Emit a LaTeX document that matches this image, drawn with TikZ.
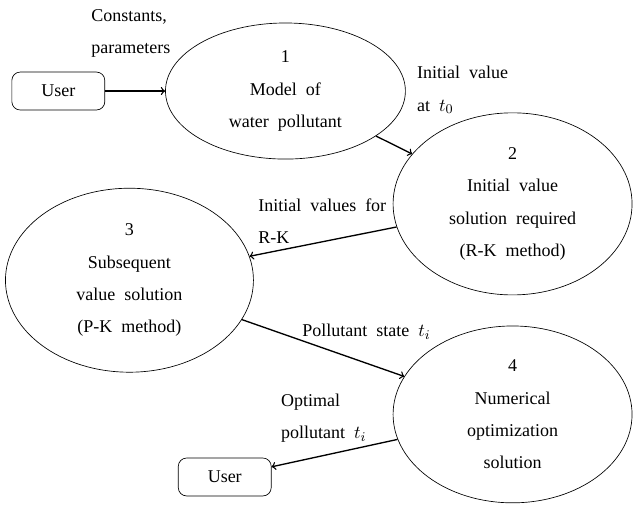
\documentclass[tikz,border=0pt]{standalone}
\usepackage{fontspec}
\setmainfont{Liberation Serif}
\usetikzlibrary{shapes.geometric}

\newcommand{\flowfont}{\fontsize{10.8}{19.4}\selectfont\spaceskip = 0.5em\relax}

\begin{document}
\begin{tikzpicture}[> = to,
	process/.style = {draw, ellipse, inner sep = 0pt, align = center, font = \flowfont},
	user/.style = {draw, rounded corners = 5pt, minimum width = 1.96cm, minimum height = 0.8cm, font = \flowfont},
	note/.style = {anchor = west, align = left, inner sep = 0pt, font = \flowfont},
	flow/.style = {->, thick}]

	\useasboundingbox (0, 0) rectangle (13.35, 10.63);

	% Processes

	\node [process, minimum width = 5.06cm, minimum height = 2.87cm] (model) at (6.02, 8.71) {1\\Model of\\water pollutant};
	\node [process, minimum width = 5.04cm, minimum height = 3.84cm] (initial) at (10.81, 6.33) {2\\Initial value\\solution required\\(R-K method)};
	\node [process, minimum width = 5.23cm, minimum height = 3.88cm] (subsequent) at (2.73, 4.72) {3\\Subsequent\\value solution\\(P-K method)};
	\node [process, minimum width = 5.04cm, minimum height = 3.73cm] (optimize) at (10.81, 1.89) {4\\Numerical\\optimization\\solution};

	% Users

	\node [user] (userin) at (1.23, 8.71) {User};
	\node [user] (userout) at (4.74, 0.57) {User};

	% Data flows

	\draw [flow] (userin) -- (model);
	\draw [flow] (model) -- (initial);
	\draw [flow] (initial) -- (subsequent);
	\draw [flow] (subsequent) -- (optimize);
	\draw [flow] (optimize) -- (userout);

	\node [note] (constants) at (1.92, 9.93) {Constants,\\parameters};
	\node [note] (initlabel) at (8.79, 8.73) {Initial value\\at $t_0$};
	\node [note] (rklabel) at (5.44, 5.97) {Initial values for\\R-K};
	\node [note] (statelabel) at (6.37, 3.63) {Pollutant state $t_i$};
	\node [note] (optlabel) at (5.92, 1.81) {Optimal\\pollutant $t_i$};

\end{tikzpicture}
\end{document}
